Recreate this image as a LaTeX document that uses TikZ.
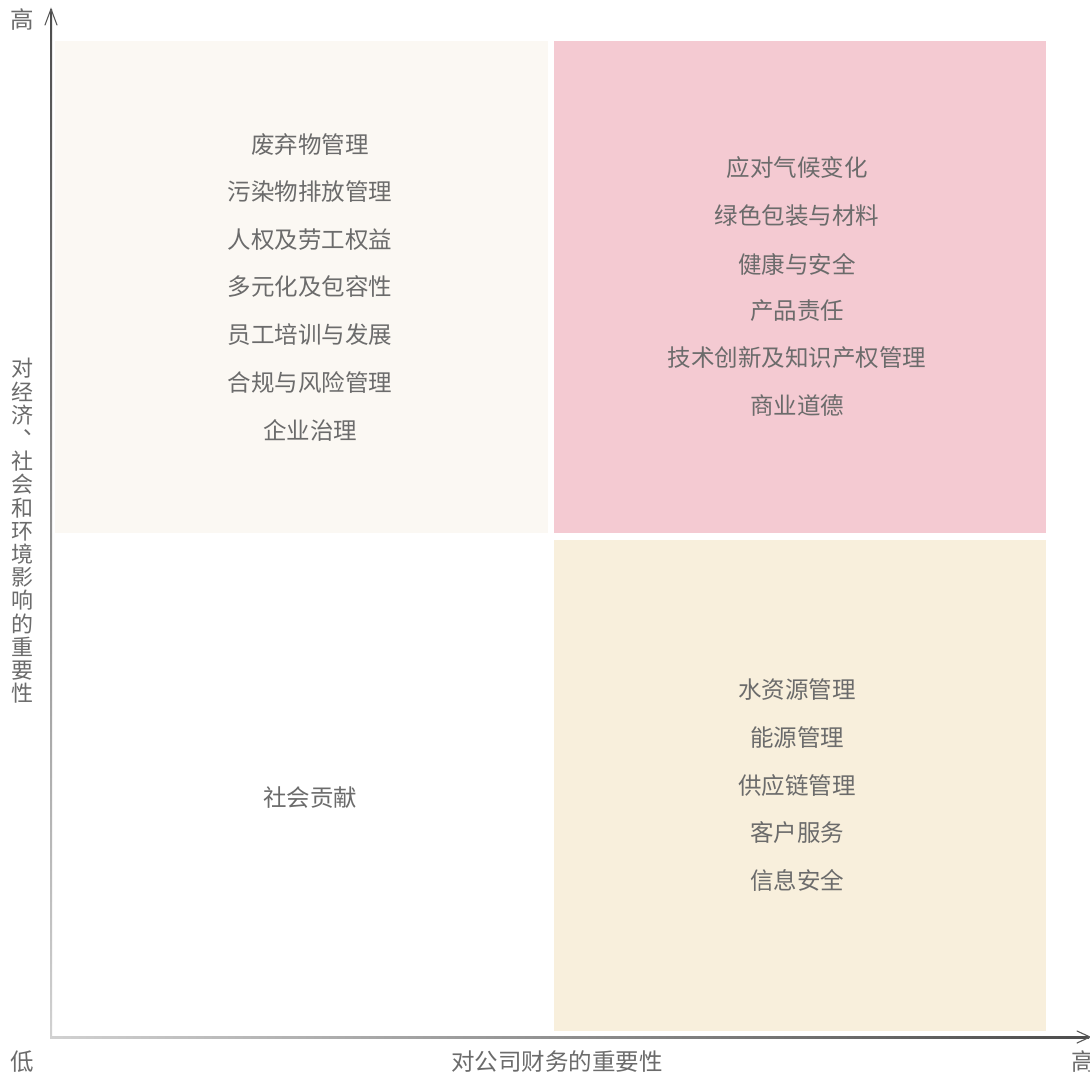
\documentclass[tikz,border=0pt]{standalone}
\usepackage{fontspec}
\setmainfont{Noto Sans CJK SC}
\begin{document}
\begin{tikzpicture}[x=1pt,y=-1pt,
  txt/.style={inner sep=0pt,text=black!58,font=\fontsize{23.5}{26}\selectfont},
  axlbl/.style={inner sep=0pt,text=black!58,font=\fontsize{22}{23.2}\selectfont,align=center},
  tip/.style={draw=black!65,line width=1.1pt,line cap=round,line join=miter}]
\definecolor{qtl}{HTML}{FBF8F3}
\definecolor{qtr}{HTML}{F4CAD2}
\definecolor{qbr}{HTML}{F8EFDC}
\useasboundingbox (0,0) rectangle (1090,1078);
\fill[white] (0,0) rectangle (1090,1078);
% quadrants
\fill[qtl] (55,41) rectangle (548,533);
\fill[qtr] (554,41) rectangle (1046,533);
\fill[qbr] (554,540) rectangle (1046,1031);
% axes
\coordinate (o) at (51,1037);
\coordinate (ytip) at (51,9);
\coordinate (xtip) at (1090,1037);
\shade[top color=black!70,bottom color=black!18] (50,10) rectangle (52,1038);
\shade[left color=black!18,right color=black!70] (50,1036) rectangle (1089,1038);
\draw[tip] (45,25) -- (ytip) -- (57,25);
\draw[tip] (1077,1031) -- (xtip) -- (1077,1043);
% axis labels
\node[txt] (hiy) at (22,20) {高};
\node[txt] (lo) at (22,1062) {低};
\node[txt] (hix) at (1083,1062) {高};
\node[txt] (xl) at (557,1062) {对公司财务的重要性};
\node[axlbl] (yl) at (22,531) {对\\经\\济\\\makebox[1em][l]{\hspace{0.55em}\smash{\raisebox{0.55em}{、}}}\\社\\会\\和\\环\\境\\影\\响\\的\\重\\要\\性};
% top-left
\node[txt] (a1) at (310,145) {废弃物管理};
\node[txt] (a2) at (310,192) {污染物排放管理};
\node[txt] (a3) at (310,240) {人权及劳工权益};
\node[txt] (a4) at (310,287) {多元化及包容性};
\node[txt] (a5) at (310,335) {员工培训与发展};
\node[txt] (a6) at (310,382) {合规与风险管理};
\node[txt] (a7) at (310,430) {企业治理};
% top-right
\node[txt] (b1) at (797,168) {应对气候变化};
\node[txt] (b2) at (797,216) {绿色包装与材料};
\node[txt] (b3) at (797,264) {健康与安全};
\node[txt] (b4) at (797,311) {产品责任};
\node[txt] (b5) at (797,358) {技术创新及知识产权管理};
\node[txt] (b6) at (797,406) {商业道德};
% bottom-right
\node[txt] (c1) at (797,690) {水资源管理};
\node[txt] (c2) at (797,738) {能源管理};
\node[txt] (c3) at (797,786) {供应链管理};
\node[txt] (c4) at (797,833) {客户服务};
\node[txt] (c5) at (797,880) {信息安全};
% bottom-left
\node[txt] (d1) at (310,798) {社会贡献};
\end{tikzpicture}
\end{document}
